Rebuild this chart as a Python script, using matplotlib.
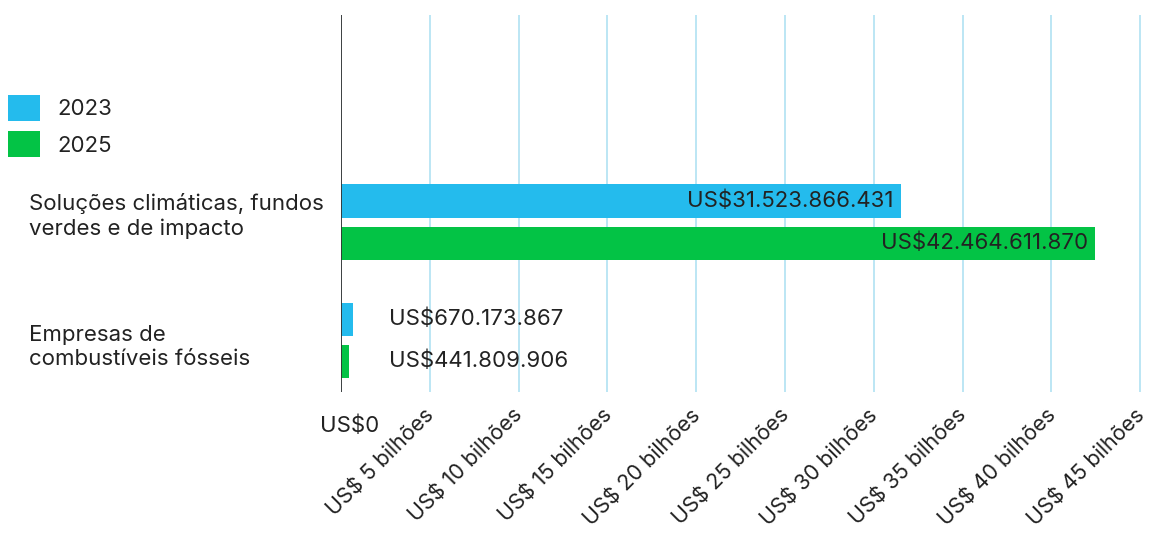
import numpy as np
import matplotlib.pyplot as plt
import matplotlib.transforms as mtransforms
from matplotlib.patches import Patch

plt.rcParams['font.family'] = ['Inter', 'DejaVu Sans']

categories = ['Soluções climáticas, fundos\nverdes e de impacto',
              'Empresas de\ncombustíveis fósseis']
years = ['2023', '2025']
values_2023 = [31523866431, 670173867]
values_2025 = [42464611870, 441809906]
value_labels_2023 = ['US$31.523.866.431', 'US$670.173.867']
value_labels_2025 = ['US$42.464.611.870', 'US$441.809.906']
tick_values = [0, 5, 10, 15, 20, 25, 30, 35, 40, 45]
tick_labels = ['US$0'] + ['US$ %d bilhões' % t for t in tick_values[1:]]

blue = '#24bbed'
green = '#03c345'
grid_col = '#b0e2f2'
txt = '#222222'

fig = plt.figure(figsize=(11.49, 5.34), dpi=100)
ax = fig.add_axes([341 / 1149, 142 / 534, 800 / 1149, 377 / 534])

y = np.arange(len(categories))
off = 0.178
h = 0.28
v23 = np.array(values_2023) / 1e9
v25 = np.array(values_2025) / 1e9
ax.barh(y - off, v23, height=h, color=blue, zorder=3)
ax.barh(y + off, v25, height=h, color=green, zorder=3)

ax.set_xlim(0, 45.05)
ax.set_ylim(1.44, -1.754)

fs = 16
# value labels: big ones inside the bar end, small ones at a fixed spot
for i in range(len(categories)):
    for yy, v, lab in [(y[i] - off, v23[i], value_labels_2023[i]),
                       (y[i] + off, v25[i], value_labels_2025[i])]:
        if v > 5:
            ax.annotate(lab, xy=(v, yy), xytext=(-7, 0), textcoords='offset pixels',
                        ha='right', va='center', fontsize=fs, color=txt, zorder=4)
        else:
            ax.annotate(lab, xy=(0, yy), xytext=(48, 0), textcoords='offset pixels',
                        ha='left', va='center', fontsize=fs, color=txt, zorder=4)

# category labels on the left
label_shift = [6, -7]
for i, c in enumerate(categories):
    ax.annotate(c, xy=(0, y[i]), xytext=(29, label_shift[i]),
                textcoords=('figure pixels', 'offset pixels'),
                ha='left', va='center', fontsize=fs, color=txt, linespacing=1.3)

ax.set_yticks([])
ax.set_xticks(tick_values)
ax.set_xticklabels(tick_labels, fontsize=15.5, color=txt)
ax.tick_params(axis='x', length=0, pad=0)
ax.grid(axis='x', color=grid_col, linewidth=1.2, zorder=0)
ax.axvline(0, color='#333333', linewidth=1.3, zorder=5)
for s in ax.spines.values():
    s.set_visible(False)

labels = ax.get_xticklabels()
for k, lab in enumerate(labels):
    if k == 0:
        lab.set_rotation(0)
        lab.set_ha('center')
        lab.set_va('top')
        lab.set_fontsize(fs)
        lab.set_transform(lab.get_transform() + mtransforms.ScaledTranslation(9 / 100, -23 / 100, fig.dpi_scale_trans))
    else:
        lab.set_rotation(45)
        lab.set_ha('right')
        lab.set_va('center')
        lab.set_rotation_mode('anchor')
        lab.set_transform(lab.get_transform() + mtransforms.ScaledTranslation(1 / 100, -20 / 100, fig.dpi_scale_trans))

handles = [Patch(facecolor=blue, label=years[0]), Patch(facecolor=green, label=years[1])]
fig.legend(handles=handles, loc='upper left', bbox_to_anchor=(8 / 1149, 1 - 95 / 534),
           frameon=False, fontsize=fs, handlelength=1.44, handleheight=1.44,
           handletextpad=0.8, labelspacing=0.45, borderpad=0, borderaxespad=0,
           labelcolor=txt)

fig.savefig('out.png', dpi=100)
